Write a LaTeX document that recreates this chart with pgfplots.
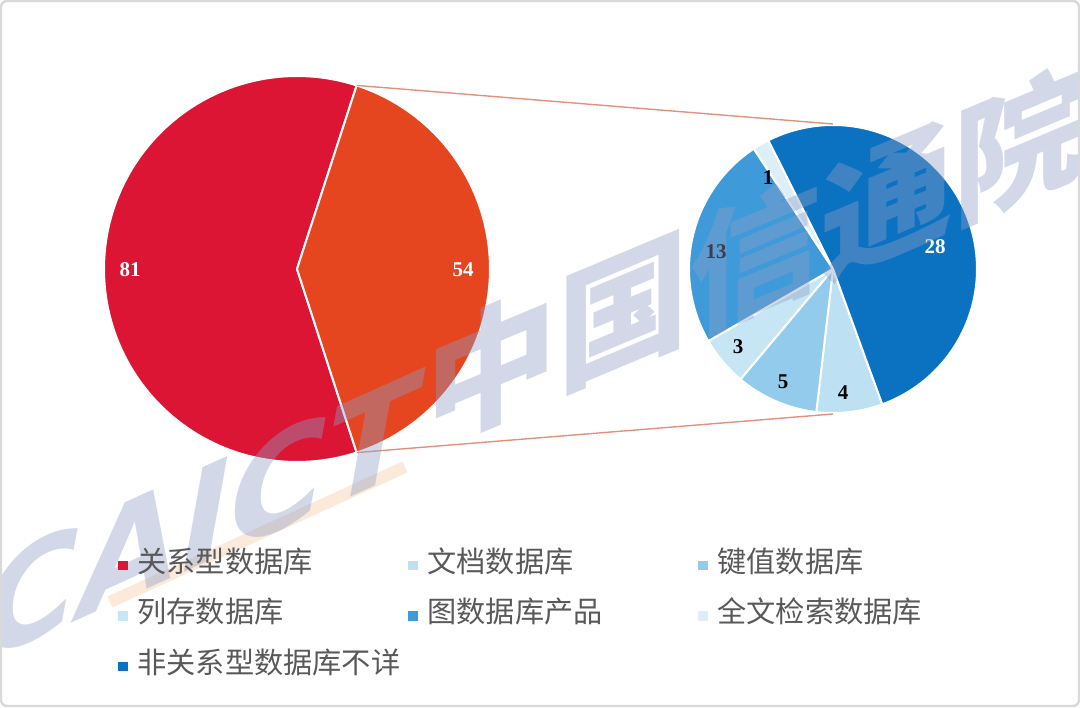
\documentclass[border=0pt]{standalone}
\usepackage{pgfplots}
\pgfplotsset{compat=1.18}
\usepackage{fontspec}
\setmainfont{Liberation Serif}
\newfontfamily\cjk{Noto Sans CJK SC}
\newfontfamily\wmlatin{DejaVu Sans}
\definecolor{cRel}{HTML}{DC1535}
\definecolor{cNon}{HTML}{E5451F}
\definecolor{cDoc}{HTML}{BDE0F2}
\definecolor{cKV}{HTML}{92CBEC}
\definecolor{cCol}{HTML}{C6E6F5}
\definecolor{cGraph}{HTML}{3E9AD8}
\definecolor{cFull}{HTML}{DDEEF7}
\definecolor{cUnk}{HTML}{0B72C2}
\definecolor{cLine}{HTML}{E3907C}
\definecolor{cTxt}{HTML}{595959}
\definecolor{wm}{HTML}{8E9EC4}
\definecolor{wmo}{HTML}{F5C8A0}
\begin{document}
\begin{tikzpicture}
% ---- data ----
\def\vRel{81}\def\vNon{54}
\def\vDoc{4}\def\vKV{5}\def\vCol{3}\def\vGraph{13}\def\vFull{1}\def\vUnk{28}
% ---- geometry (pixel units) ----
\def\cxL{297}\def\cyL{438}\def\rL{193}
\def\cxR{833}\def\cyR{438}\def\rR{144}
\pgfmathsetmacro\Lhalf{\vNon/(\vRel+\vNon)*180}
\pgfmathsetmacro\Lend{360-\Lhalf}
\pgfmathsetmacro\Lneg{-\Lhalf}
\pgfmathsetmacro\aA{116.67}
\pgfmathsetmacro\aB{\aA-\vUnk/\vNon*360}
\pgfmathsetmacro\aC{\aB-\vDoc/\vNon*360}
\pgfmathsetmacro\aD{\aC-\vKV/\vNon*360}
\pgfmathsetmacro\aE{\aD-\vCol/\vNon*360}
\pgfmathsetmacro\aF{\aE-\vGraph/\vNon*360}
\pgfmathsetmacro\aG{\aF-\vFull/\vNon*360}
\begin{axis}[
  name=ax,
  width=540pt, height=353.5pt, scale only axis,
  xmin=0, xmax=1080, ymin=0, ymax=707,
  hide axis, clip=false,
  legend columns=3,
  legend image code/.code={\fill[#1,draw=none] (0pt,-2.3pt) rectangle (4.6pt,2.3pt); \path[draw=none,fill=none] (0pt,0pt) -- (9.5pt,0pt);},
  legend style={
    at={(0.1093,0.2221)}, anchor=north west,
    draw=none, fill=none, inner sep=0pt,
    column sep=0pt, row sep=10.3pt,
    font=\cjk\fontsize{14.6pt}{17pt}\selectfont, text=cTxt,
    cells={anchor=west},
    nodes={text width=135.5pt, align=left, inner xsep=0pt, inner ysep=0pt, text height=11pt, text depth=4pt},
  },
]
% left pie
\addplot[fill=cRel, draw=white, line width=1pt, domain=\Lhalf:\Lend, samples=120]
  ({\cxL+\rL*cos(x)}, {\cyL+\rL*sin(x)}) -- (axis cs:\cxL,\cyL) -- cycle;
\addlegendentry{关系型数据库}
\addplot[forget plot, fill=cNon, draw=white, line width=1pt, domain=\Lneg:\Lhalf, samples=80]
  ({\cxL+\rL*cos(x)}, {\cyL+\rL*sin(x)}) -- (axis cs:\cxL,\cyL) -- cycle;
% right pie
\addplot[fill=cDoc, draw=white, line width=1pt, domain=\aC:\aB, samples=30]
  ({\cxR+\rR*cos(x)}, {\cyR+\rR*sin(x)}) -- (axis cs:\cxR,\cyR) -- cycle;
\addlegendentry{文档数据库}
\addplot[fill=cKV, draw=white, line width=1pt, domain=\aD:\aC, samples=30]
  ({\cxR+\rR*cos(x)}, {\cyR+\rR*sin(x)}) -- (axis cs:\cxR,\cyR) -- cycle;
\addlegendentry{键值数据库}
\addplot[fill=cCol, draw=white, line width=1pt, domain=\aE:\aD, samples=30]
  ({\cxR+\rR*cos(x)}, {\cyR+\rR*sin(x)}) -- (axis cs:\cxR,\cyR) -- cycle;
\addlegendentry{列存数据库}
\addplot[fill=cGraph, draw=white, line width=1pt, domain=\aF:\aE, samples=60]
  ({\cxR+\rR*cos(x)}, {\cyR+\rR*sin(x)}) -- (axis cs:\cxR,\cyR) -- cycle;
\addlegendentry{图数据库产品}
\addplot[fill=cFull, draw=white, line width=1pt, domain=\aG:\aF, samples=20]
  ({\cxR+\rR*cos(x)}, {\cyR+\rR*sin(x)}) -- (axis cs:\cxR,\cyR) -- cycle;
\addlegendentry{全文检索数据库}
\addplot[fill=cUnk, draw=white, line width=1pt, domain=\aB:\aA, samples=120]
  ({\cxR+\rR*cos(x)}, {\cyR+\rR*sin(x)}) -- (axis cs:\cxR,\cyR) -- cycle;
\addlegendentry{非关系型数据库不详}
% connector lines
\addplot[forget plot, color=cLine, line width=0.7pt] coordinates {(356.6,621.6) (833,583)};
\addplot[forget plot, color=cLine, line width=0.7pt] coordinates {(356.6,254.4) (833,293)};
% labels
\begin{scope}[every node/.style={font=\bfseries\fontsize{10.5pt}{12pt}\selectfont, inner sep=0pt}]
\node[text=white] at (axis cs:130,437) {81};
\node[text=white] at (axis cs:463,437) {54};
\node[text=white] at (axis cs:935,460) {28};
\node[text=black] at (axis cs:716,455) {13};
\node[text=black] at (axis cs:768,529) {1};
\node[text=black] at (axis cs:738,360) {3};
\node[text=black] at (axis cs:783,325) {5};
\node[text=black] at (axis cs:843,314) {4};
\end{scope}
% watermark
\begin{scope}
\clip (axis cs:0,0) rectangle (axis cs:1080,707);
\draw[wmo, line width=6pt, opacity=0.4] (axis cs:405,240) -- (axis cs:110,105);
\node[yslant=0.42, anchor=center, text=wm, opacity=0.4, inner sep=0pt] at (axis cs:755,452)
  {\cjk\bfseries\fontsize{66pt}{66pt}\selectfont 中国信通院};
\node[yslant=0.45, anchor=center, text=wm, opacity=0.4, inner sep=0pt] at (axis cs:200,190)
  {\wmlatin\bfseries\itshape\fontsize{66pt}{66pt}\selectfont CAICT};
\end{scope}
% frame
\draw[black!15, line width=1.2pt, rounded corners=3pt] (axis cs:1,1) rectangle (axis cs:1079,706);
\end{axis}
\pgfresetboundingbox
\useasboundingbox (ax.south west) rectangle (ax.north east);
\end{tikzpicture}
\end{document}
